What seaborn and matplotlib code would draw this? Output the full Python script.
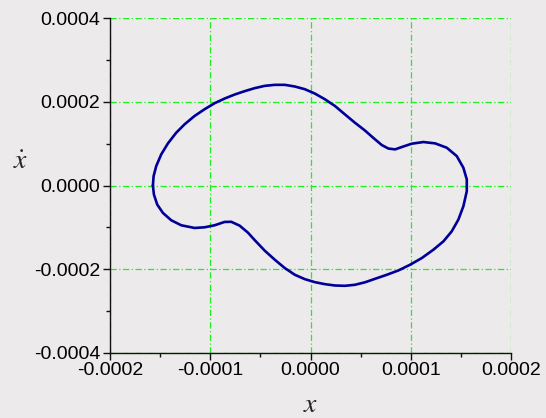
import matplotlib
matplotlib.use("Agg")
import matplotlib.pyplot as plt
import numpy as np
import pandas as pd
import seaborn as sns
from matplotlib.ticker import FixedLocator, FormatStrFormatter

# Limit-cycle trace in the phase plane (clockwise), values in units of 1e-4
pos_1e4 = [-1.572, -1.565, -1.539, -1.489, -1.422, -1.339, -1.256, -1.156,
           -1.057, -0.957, -0.857, -0.757, -0.658, -0.558, -0.456, -0.356,
           -0.256, -0.156, -0.057, 0.043, 0.143, 0.243, 0.342, 0.442,
           0.543, 0.628, 0.711, 0.777, 0.844, 0.910, 1.010, 1.126,
           1.243, 1.359, 1.459, 1.525, 1.559, 1.559, 1.525, 1.475,
           1.409, 1.326, 1.226, 1.110, 0.993, 0.877, 0.761, 0.644,
           0.543, 0.442, 0.342, 0.243, 0.143, 0.043, -0.057, -0.156,
           -0.256, -0.356, -0.456, -0.556, -0.624, -0.707, -0.791, -0.857,
           -0.957, -1.057, -1.156, -1.289, -1.389, -1.472, -1.529, -1.562]
vel_1e4 = [0.000, 0.224, 0.464, 0.744, 1.008, 1.264, 1.464, 1.664,
           1.824, 1.968, 2.080, 2.176, 2.256, 2.328, 2.384, 2.408,
           2.408, 2.368, 2.304, 2.200, 2.064, 1.904, 1.704, 1.504,
           1.316, 1.136, 0.968, 0.884, 0.864, 0.920, 1.000, 1.040,
           1.008, 0.904, 0.704, 0.424, 0.144, -0.136, -0.496, -0.816,
           -1.096, -1.336, -1.536, -1.736, -1.896, -2.032, -2.136, -2.232,
           -2.316, -2.376, -2.400, -2.392, -2.360, -2.312, -2.240, -2.136,
           -1.976, -1.776, -1.560, -1.308, -1.128, -0.960, -0.868, -0.872,
           -0.952, -1.000, -1.016, -0.952, -0.832, -0.656, -0.456, -0.216]

x_ticks = [-0.0002, -0.0001, 0.0, 0.0001, 0.0002]
y_ticks = [-0.0004, -0.0002, 0.0, 0.0002, 0.0004]
x_minor = [-0.00015, -0.00005, 0.00005, 0.00015]
y_minor = [-0.0003, -0.0001, 0.0001, 0.0003]

BG = "#ECEAEB"

sns.set_theme(style="white")
plt.rcParams["font.family"] = ["Liberation Sans", "DejaVu Sans"]
plt.rcParams["mathtext.fontset"] = "stix"

# close the loop
xs = np.array(pos_1e4 + pos_1e4[:1]) * 1e-4
ys = np.array(vel_1e4 + vel_1e4[:1]) * 1e-4
df = pd.DataFrame({"x": xs, "xdot": ys})

fig = plt.figure(figsize=(5.46, 4.18), dpi=100, facecolor=BG)
ax = fig.add_axes([110 / 546, 1 - 352.7 / 418, 401 / 546, (352.7 - 18.3) / 418])
ax.set_facecolor(BG)

sns.lineplot(data=df, x="x", y="xdot", sort=False, estimator=None,
             color="#000099", linewidth=1.9, ax=ax, zorder=3,
             solid_joinstyle="round", solid_capstyle="round")

ax.set_xlim(x_ticks[0], x_ticks[-1])
ax.set_ylim(y_ticks[0], y_ticks[-1])
ax.xaxis.set_major_locator(FixedLocator(x_ticks))
ax.yaxis.set_major_locator(FixedLocator(y_ticks))
ax.xaxis.set_minor_locator(FixedLocator(x_minor))
ax.yaxis.set_minor_locator(FixedLocator(y_minor))
ax.xaxis.set_major_formatter(FormatStrFormatter("%.4f"))
ax.yaxis.set_major_formatter(FormatStrFormatter("%.4f"))

ax.grid(True, which="major", color="#1FF01F", linewidth=0.9,
        linestyle=(0, (5, 2, 1, 2)), zorder=1)
ax.set_axisbelow(True)

for side in ("top", "right"):
    ax.spines[side].set_visible(False)
for side in ("left", "bottom"):
    ax.spines[side].set_color("#111111")
    ax.spines[side].set_linewidth(1.0)

ax.tick_params(which="major", direction="out", length=5, width=1.0,
               color="#111111", labelsize=14, labelcolor="black", pad=2,
               left=True, bottom=True)
ax.tick_params(which="minor", direction="out", length=3, width=1.0,
               color="#111111", left=True, bottom=True)

ax.set_xlabel("$x$", fontsize=20, labelpad=9)
ax.set_ylabel(r"$\dot{x}$", fontsize=20, rotation=0, ha="center", va="center")
ax.yaxis.set_label_coords((21 - 110) / 401, (352.7 - 162) / 334.4)

fig.savefig("out.png", dpi=100, facecolor=BG)
